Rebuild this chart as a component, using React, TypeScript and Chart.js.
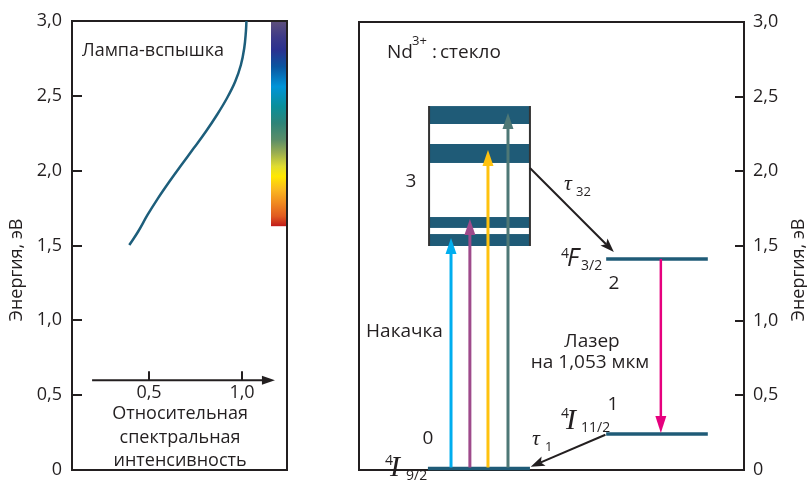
import React, { useEffect, useRef } from 'react';
import { Chart, registerables } from 'chart.js';
Chart.register(...registerables);

const SANS = '"Open Sans", "DejaVu Sans", sans-serif';
const SERIF = '"Liberation Serif", "DejaVu Serif", serif';
const INK = '#231f20';
const TEAL = '#1f5b77';

// ---- shared energy axis (eV) ----
const energyTicks = [0, 0.5, 1.0, 1.5, 2.0, 2.5, 3.0];
const energyTitle = 'Энергия, эВ';

// ---- left panel: flash-lamp spectrum ----
const lampIntensity = [0.394, 0.441, 0.492, 0.548, 0.609, 0.674, 0.74, 0.805, 0.865, 0.919, 0.963, 0.994, 1.012, 1.021, 1.024];
const lampEnergy = [1.503, 1.592, 1.704, 1.815, 1.926, 2.038, 2.149, 2.26, 2.372, 2.484, 2.594, 2.706, 2.818, 2.929, 3.0];
const intensityTicks = [0.5, 1.0];
const intensityView = [0.086, 1.242];
const intensityArrow = [0.194, 1.177];
const intensityArrowEnergy = 0.6;
const intensityTitle = ['Относительная', 'спектральная', 'интенсивность'];
const lampTitle = 'Лампа-вспышка';
const spectrumEnergy = [3.0, 2.895, 2.807, 2.695, 2.562, 2.429, 2.318, 2.207, 2.118, 2.029, 1.962, 1.873, 1.785, 1.695, 1.629];
const spectrumColor = ['#5f4f7c', '#3e3a88', '#2b3190', '#0a55a0', '#0094d8', '#0a8f9a', '#2e8478', '#5a8d68', '#9bae50', '#e0dc30', '#ffe800', '#fab820', '#f08a20', '#e05a20', '#c01a1a'];
const spectrumIntensity = [1.156, 1.237];

// ---- right panel: Nd3+ glass levels (x in % of panel width) ----
const levelNames = ['4I9/2', '4I11/2', '4F3/2'];
const levelEnergy = [0.01, 0.241, 1.413];
const levelFrom = [17.9, 64.2, 64.2];
const levelTo = [44.4, 90.6, 90.6];
const bandLow = [2.317, 2.056, 1.621, 1.5];
const bandHigh = [2.437, 2.183, 1.694, 1.58];
const bandFrom = 18.2;
const bandTo = 44.4;
const pumpX = [23.9, 28.8, 33.5, 38.7];
const pumpTop = [1.554, 1.681, 2.143, 2.391];
const pumpColor = ['#00aeef', '#9e4a8b', '#ffc20e', '#4e7876'];
const laserX = 78.4;
const laserFrom = 1.413;
const laserTo = 0.248;
const relaxFromX = [44.4, 64.0];
const relaxFromE = [2.022, 0.236];
const relaxToX = [66.2, 44.6];
const relaxToE = [1.46, 0.022];

const fmt = (v: number) => (v === 0 ? '0' : v.toFixed(1).replace('.', ','));

function txt(ctx: CanvasRenderingContext2D, s: string, x: number, y: number, font: string, align: CanvasTextAlign = 'left', base: CanvasTextBaseline = 'alphabetic') {
  ctx.font = font;
  ctx.textAlign = align;
  ctx.textBaseline = base;
  ctx.fillStyle = INK;
  ctx.fillText(s, x, y);
}

function arrow(ctx: CanvasRenderingContext2D, x0: number, y0: number, x1: number, y1: number, color: string, width: number, len: number, half: number, notch = 0) {
  const ang = Math.atan2(y1 - y0, x1 - x0);
  const c = Math.cos(ang), s = Math.sin(ang);
  const bx = x1 - len * c, by = y1 - len * s;
  ctx.save();
  ctx.strokeStyle = color;
  ctx.lineWidth = width;
  ctx.lineCap = 'butt';
  ctx.beginPath();
  ctx.moveTo(x0, y0);
  ctx.lineTo(bx + 3 * c, by + 3 * s);
  ctx.stroke();
  ctx.fillStyle = color;
  ctx.beginPath();
  ctx.moveTo(x1, y1);
  ctx.lineTo(bx - half * s, by + half * c);
  ctx.lineTo(bx + notch * c, by + notch * s);
  ctx.lineTo(bx + half * s, by - half * c);
  ctx.closePath();
  ctx.fill();
  ctx.restore();
}

function vtitle(ctx: CanvasRenderingContext2D, s: string, x: number, y: number) {
  ctx.save();
  ctx.translate(x, y);
  ctx.rotate(-Math.PI / 2);
  txt(ctx, s, 0, 0, `18px ${SANS}`, 'center', 'middle');
  ctx.restore();
}

function term(ctx: CanvasRenderingContext2D, x: number, top: number, sup: string, letter: string, letterFont: string, sub: string, letterBase: number, subBase: number, letterGap: number, subX: number) {
  txt(ctx, sup, x, top + 10, `14px ${SANS}`);
  txt(ctx, letter, x + letterGap, top + letterBase, letterFont);
  txt(ctx, sub, x + subX, top + subBase, `14px ${SANS}`);
}

const leftDecor = {
  id: 'leftDecor',
  beforeDatasetsDraw(chart: any) {
    const { ctx, chartArea: a, scales: { x, y } } = chart;
    ctx.save();
    const x0 = x.getPixelForValue(spectrumIntensity[0]);
    const x1 = x.getPixelForValue(spectrumIntensity[1]);
    const yTop = y.getPixelForValue(spectrumEnergy[0]);
    const yBot = y.getPixelForValue(spectrumEnergy[spectrumEnergy.length - 1]);
    const g = ctx.createLinearGradient(0, yTop, 0, yBot);
    spectrumEnergy.forEach((e, i) => g.addColorStop(Math.min(1, Math.max(0, (y.getPixelForValue(e) - yTop) / (yBot - yTop))), spectrumColor[i]));
    ctx.fillStyle = g;
    ctx.fillRect(x0, yTop, x1 - x0, yBot - yTop);
    ctx.strokeStyle = INK;
    ctx.lineWidth = 2;
    ctx.strokeRect(a.left, a.top, a.right - a.left, a.bottom - a.top);
    ctx.beginPath();
    energyTicks.forEach((v) => {
      if (v <= 0 || v >= 3) return;
      const py = Math.round(y.getPixelForValue(v));
      ctx.moveTo(a.left, py);
      ctx.lineTo(a.left + 10, py);
    });
    ctx.stroke();
    ctx.restore();
  },
  afterDatasetsDraw(chart: any) {
    const { ctx, chartArea: a, scales: { x, y } } = chart;
    ctx.save();
    const ay = y.getPixelForValue(intensityArrowEnergy);
    const ax0 = x.getPixelForValue(intensityArrow[0]);
    const ax1 = x.getPixelForValue(intensityArrow[1]);
    arrow(ctx, ax0, ay, ax1, ay, INK, 2, 13, 4.5);
    ctx.strokeStyle = INK;
    ctx.lineWidth = 2;
    intensityTicks.forEach((v) => {
      const px = Math.round(x.getPixelForValue(v));
      ctx.beginPath();
      ctx.moveTo(px, ay);
      ctx.lineTo(px, ay - 9);
      ctx.stroke();
      txt(ctx, fmt(v), px, ay + 13, `18px ${SANS}`, 'center', 'middle');
    });
    const cx = x.getPixelForValue(0.667);
    intensityTitle.forEach((s, i) => txt(ctx, s, cx, 419 + i * 23.5, `18px ${SANS}`, 'center'));
    txt(ctx, lampTitle, a.left + 10, 51, `18px ${SANS}`, 'left', 'middle');
    vtitle(ctx, energyTitle, 17, 270);
    ctx.restore();
  },
};

const OX = 300;
const rightDecor = {
  id: 'rightDecor',
  beforeDatasetsDraw(chart: any) {
    const { ctx, chartArea: a, scales: { x, y } } = chart;
    ctx.save();
    ctx.strokeStyle = INK;
    ctx.lineWidth = 2;
    ctx.strokeRect(a.left, a.top, a.right - a.left, a.bottom - a.top);
    ctx.beginPath();
    energyTicks.forEach((v) => {
      if (v <= 0 || v >= 3) return;
      const py = Math.round(y.getPixelForValue(v));
      ctx.moveTo(a.right, py);
      ctx.lineTo(a.right - 9, py);
    });
    ctx.stroke();
    const bx0 = x.getPixelForValue(bandFrom);
    const bx1 = x.getPixelForValue(bandTo);
    ctx.fillStyle = TEAL;
    bandLow.forEach((lo, i) => {
      const yt = y.getPixelForValue(bandHigh[i]);
      const yb = y.getPixelForValue(lo);
      ctx.fillRect(bx0, yt, bx1 - bx0, yb - yt);
    });
    const top = y.getPixelForValue(Math.max(...bandHigh));
    const bot = y.getPixelForValue(Math.min(...bandLow));
    ctx.strokeStyle = '#333';
    ctx.lineWidth = 2;
    ctx.beginPath();
    ctx.moveTo(bx0, top);
    ctx.lineTo(bx0, bot);
    ctx.moveTo(bx1, top);
    ctx.lineTo(bx1, bot);
    ctx.stroke();
    ctx.restore();
  },
  afterDatasetsDraw(chart: any) {
    const { ctx, scales: { x, y } } = chart;
    ctx.save();
    const ground = y.getPixelForValue(levelEnergy[0]);
    pumpX.forEach((u, i) => {
      const px = x.getPixelForValue(u);
      arrow(ctx, px, ground - 1, px, y.getPixelForValue(pumpTop[i]), pumpColor[i], 3, 16, 5.5);
    });
    const lx = x.getPixelForValue(laserX);
    arrow(ctx, lx, y.getPixelForValue(laserFrom), lx, y.getPixelForValue(laserTo), '#e6007e', 2.5, 17, 5.5);
    relaxFromX.forEach((u, i) => {
      arrow(ctx, x.getPixelForValue(u), y.getPixelForValue(relaxFromE[i]), x.getPixelForValue(relaxToX[i]), y.getPixelForValue(relaxToE[i]), INK, 2, 14, 5, 3);
    });
    const f19 = `19px ${SANS}`;
    txt(ctx, 'Nd', 387 - OX, 58, f19);
    txt(ctx, '3+', 412 - OX, 45, `13px ${SANS}`);
    txt(ctx, ':', 432 - OX, 58, f19);
    txt(ctx, 'стекло', 440 - OX, 58, f19);
    txt(ctx, '3', 411 - OX, 182, f19, 'center', 'middle');
    txt(ctx, '0', 428 - OX, 438.5, f19, 'center', 'middle');
    txt(ctx, '2', 614 - OX, 283.5, f19, 'center', 'middle');
    txt(ctx, '1', 613 - OX, 404.5, f19, 'center', 'middle');
    txt(ctx, 'Накачка', 404.5 - OX, 332, f19, 'center', 'middle');
    txt(ctx, 'Лазер', 592 - OX, 347, f19, 'center');
    txt(ctx, 'на 1,053 мкм', 590 - OX, 368, f19, 'center');
    txt(ctx, 'τ', 564 - OX, 190, `italic 22px ${SERIF}`);
    txt(ctx, '32', 576 - OX, 196, `13px ${SANS}`);
    txt(ctx, 'τ', 532 - OX, 445, `italic 22px ${SERIF}`);
    txt(ctx, '1', 545 - OX, 451, `13px ${SANS}`);
    term(ctx, 385 - OX, 455, '4', 'I', `italic 30px ${SERIF}`, '9/2', 21, 25, 5, 21);
    term(ctx, 561 - OX, 408, '4', 'I', `italic 30px ${SERIF}`, '11/2', 21, 24, 5, 20);
    term(ctx, 561 - OX, 248, '4', 'F', `italic 25px ${SANS}`, '3/2', 18, 22, 6, 20);
    vtitle(ctx, energyTitle, 799 - OX, 270);
    ctx.restore();
  },
};

function yScale(position: 'left' | 'right', width: number, gap: number) {
  return {
    type: 'linear' as const,
    position,
    min: 0,
    max: 3,
    afterBuildTicks: (s: any) => {
      s.ticks = energyTicks.map((v) => ({ value: v }));
    },
    afterFit: (s: any) => {
      s.width = width;
    },
    ticks: {
      callback: (v: any) => fmt(Number(v)),
      font: { family: SANS, size: 18 },
      color: INK,
      padding: 0,
    },
    grid: { display: false, drawTicks: true, tickLength: gap },
    border: { display: false },
  };
}

export default function App() {
  const leftRef = useRef<HTMLCanvasElement>(null);
  const rightRef = useRef<HTMLCanvasElement>(null);
  useEffect(() => {
    const c1 = new Chart(leftRef.current as HTMLCanvasElement, {
      type: 'scatter',
      data: {
        datasets: [
          {
            label: lampTitle,
            data: lampIntensity.map((v, i) => ({ x: v, y: lampEnergy[i] })),
            showLine: true,
            borderColor: '#1d5e7b',
            borderWidth: 2.5,
            pointRadius: 0,
            tension: 0.4,
            clip: false as any,
          },
        ],
      },
      options: {
        responsive: false,
        animation: false,
        layout: { padding: { top: 21, bottom: 12, left: 0, right: 13 } },
        plugins: { legend: { display: false }, tooltip: { enabled: false } },
        scales: {
          x: { type: 'linear', display: false, min: intensityView[0], max: intensityView[1] },
          y: yScale('left', 72, 10) as any,
        },
      },
      plugins: [leftDecor],
    });
    const c2 = new Chart(rightRef.current as HTMLCanvasElement, {
      type: 'scatter',
      data: {
        datasets: levelEnergy.map((e, i) => ({
          label: levelNames[i],
          data: [
            { x: levelFrom[i], y: e },
            { x: levelTo[i], y: e },
          ],
          showLine: true,
          borderColor: TEAL,
          borderWidth: 3.5,
          pointRadius: 0,
          clip: false as any,
        })),
      },
      options: {
        responsive: false,
        animation: false,
        layout: { padding: { top: 22, bottom: 12, left: 59, right: 0 } },
        plugins: { legend: { display: false }, tooltip: { enabled: false } },
        scales: {
          x: { type: 'linear', display: false, min: 0, max: 100 },
          y: yScale('right', 63, 9) as any,
        },
      },
      plugins: [rightDecor],
    });
    return () => {
      c1.destroy();
      c2.destroy();
    };
  }, []);
  return (
    <div style={{ position: 'fixed', left: 0, top: 0, width: 807, height: 482, background: '#fff' }}>
      <canvas ref={leftRef} width={300} height={482} style={{ position: 'absolute', left: 0, top: 0, width: 300, height: 482 }} />
      <canvas ref={rightRef} width={507} height={482} style={{ position: 'absolute', left: 300, top: 0, width: 507, height: 482 }} />
    </div>
  );
}
